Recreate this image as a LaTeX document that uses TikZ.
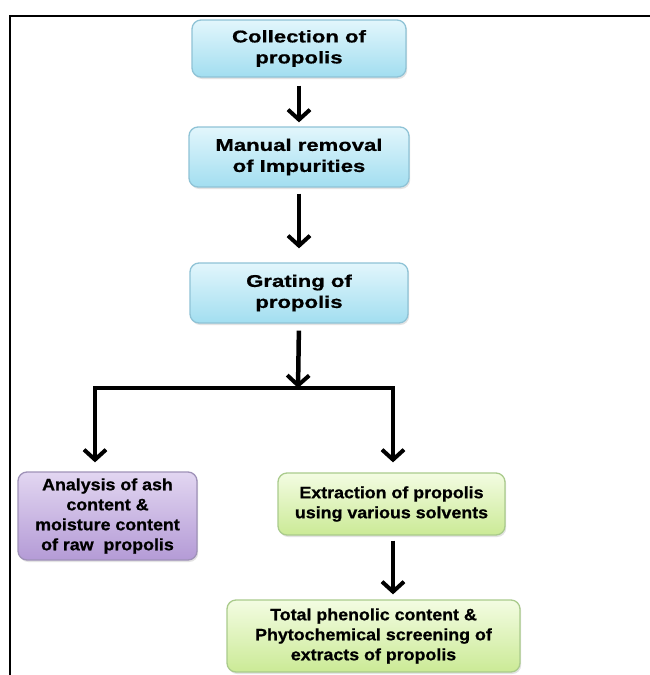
\documentclass[tikz,border=0pt]{standalone}
\usepackage{fontspec}
\setmainfont{Liberation Sans}
\newfontfamily\topfont{Liberation Sans}[FakeStretch=1.30, FakeBold=0.8]
\newfontfamily\botfont{Liberation Sans}[FakeStretch=1.08, FakeBold=0.8]
\usetikzlibrary{arrows.meta,shadows}
\definecolor{bluetop}{HTML}{E2F6FC}
\definecolor{bluebot}{HTML}{A2DEF0}
\definecolor{blueline}{HTML}{8FC3D6}
\definecolor{purtop}{HTML}{E2D6F1}
\definecolor{purbot}{HTML}{B49BD6}
\definecolor{purline}{HTML}{9F92B8}
\definecolor{grntop}{HTML}{F3FCE2}
\definecolor{grnbot}{HTML}{CBEA96}
\definecolor{grnline}{HTML}{AACB8C}
\tikzset{
  box/.style={rounded corners=9pt, line width=1.3pt, align=center,
    font=\topfont\fontsize{17}{21}\selectfont\bfseries, text=black, inner sep=0pt,
    drop shadow={opacity=0.22, shadow xshift=1.2pt, shadow yshift=-2pt}},
  lowtext/.style={font=\botfont\fontsize{16.5}{20}\selectfont\bfseries},
  bluebox/.style={box, draw=blueline, top color=bluetop, bottom color=bluebot},
  purbox/.style={box, lowtext, draw=purline, top color=purtop, bottom color=purbot},
  grnbox/.style={box, lowtext, draw=grnline, top color=grntop, bottom color=grnbot},
  arr/.style={line width=4.5pt, black, -{Straight Barb[length=10pt,width=22pt,line width=4pt]}},
  conn/.style={line width=4.5pt, black, line cap=rect},
}
\begin{document}
\begin{tikzpicture}[x=1pt,y=-1pt]
\useasboundingbox (0,0) rectangle (649,675);
\fill[white] (0,0) rectangle (649,675);
\draw[line width=2.2pt] (10,676) -- (10,16) -- (650,16);

\node[bluebox, minimum width=214pt, minimum height=57pt] (b1) at (299,48.5) {Collection of\\propolis};
\node[bluebox, minimum width=220pt, minimum height=60pt] (b2) at (299,157) {Manual removal\\of Impurities};
\node[bluebox, minimum width=218pt, minimum height=60pt] (b3) at (299,293) {Grating of\\propolis};
\node[purbox, minimum width=179pt, minimum height=88pt] (b4) at (107.5,516) {Analysis of ash\\content \&\\moisture content\\of raw\ \ propolis};
\node[grnbox, minimum width=227pt, minimum height=62pt] (b5) at (391.5,504) {Extraction of propolis\\using various solvents};
\node[grnbox, minimum width=293pt, minimum height=72pt] (b6) at (373.5,636) {Total phenolic content \&\\Phytochemical screening of\\extracts of propolis};

\coordinate (j) at (298,388);
\coordinate (jl) at (95,388);
\coordinate (jr) at (393,388);

\draw[arr, shorten <=8pt, shorten >=4pt] (b1.south) -- (b2.north);
\draw[arr, shorten <=6pt, shorten >=14pt] (b2.south) -- (b3.north);
\draw[arr, shorten <=7pt] (b3.south) -- (j);
\draw[conn] (jl) -- (jr);
\draw[arr, shorten >=9pt] (jl) -- (jl |- b4.north);
\draw[arr, shorten >=10pt] (jr) -- (jr |- b5.north);
\draw[arr, shorten <=5pt, shorten >=5pt] (b5.south -| jr) -- (b6.north -| jr);
\end{tikzpicture}
\end{document}
